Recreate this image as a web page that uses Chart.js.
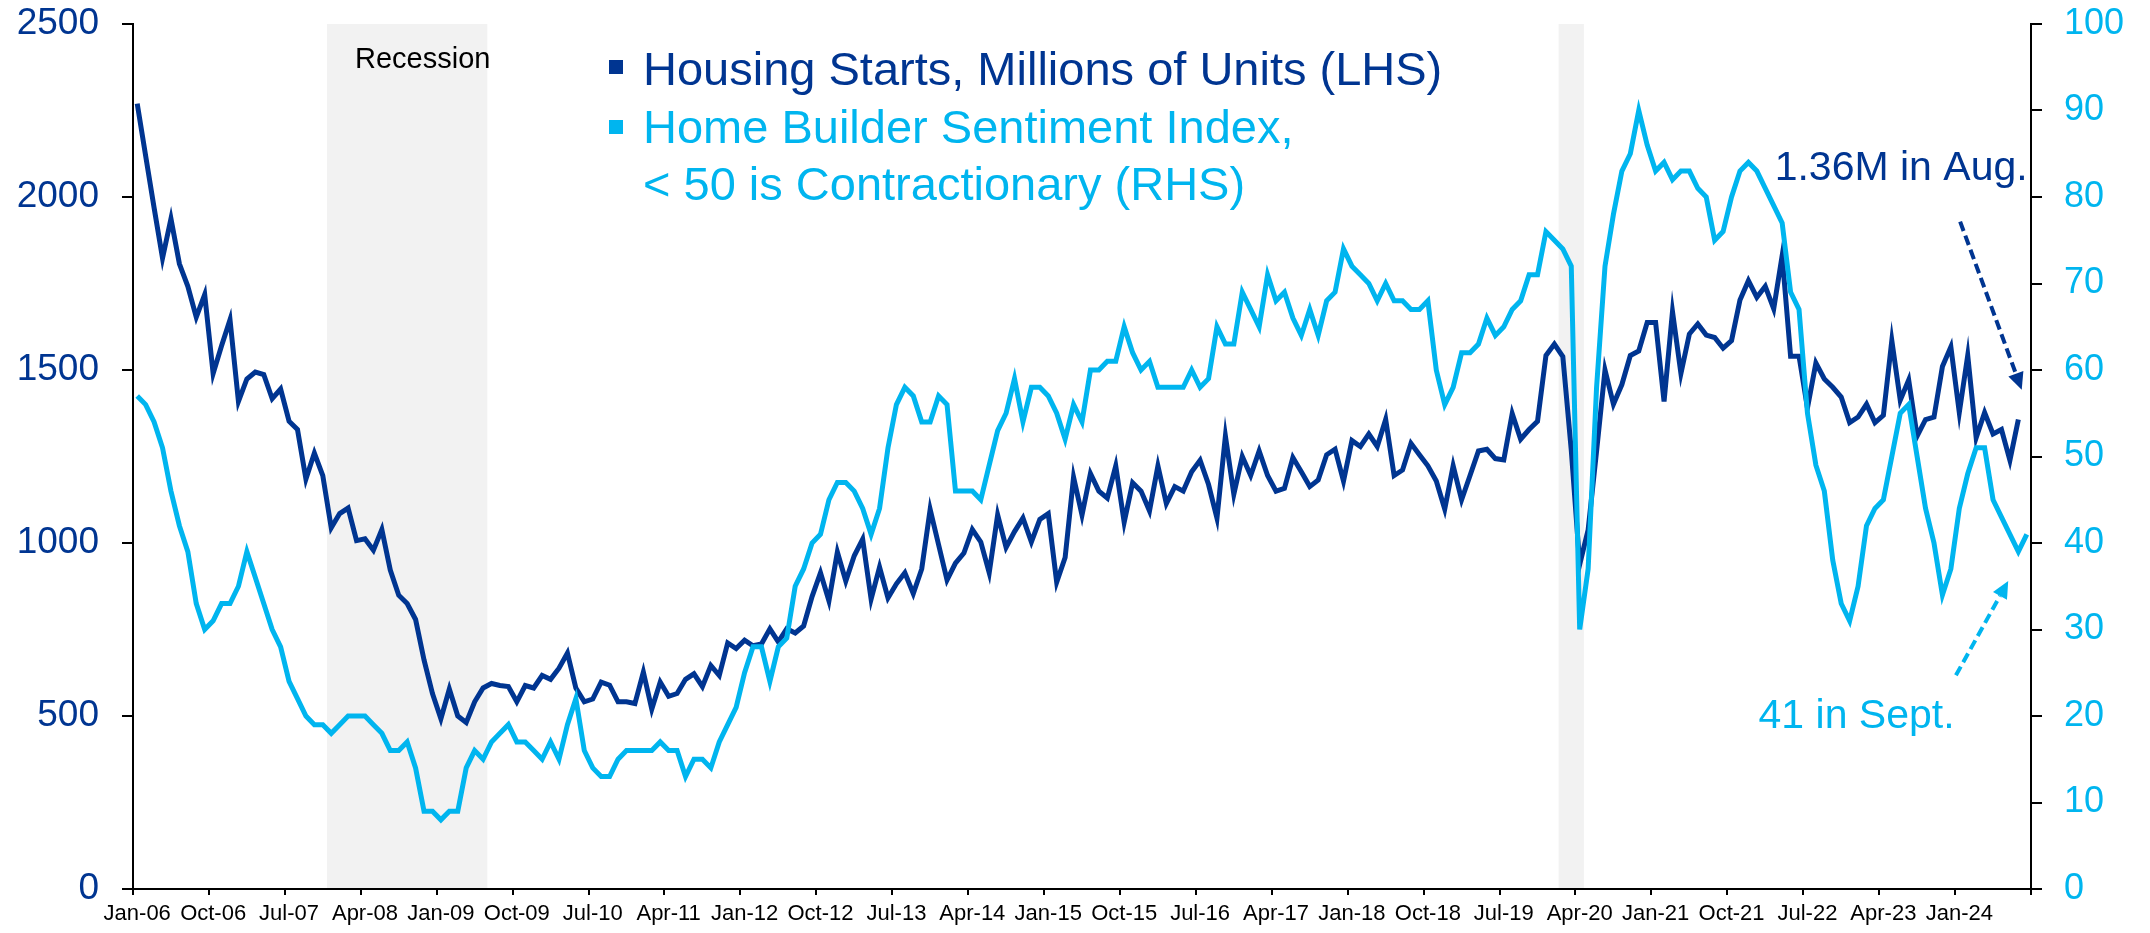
<!DOCTYPE html>
<html>
<head>
<meta charset="utf-8">
<script src="https://cdn.jsdelivr.net/npm/chart.js@4.4.1/dist/chart.umd.min.js"></script>
<style>
  html, body { margin: 0; padding: 0; background: #fff; }
  #wrap { width: 2150px; height: 933px; position: relative; }
</style>
</head>
<body>
<div id="wrap"><canvas id="myChart"></canvas></div>
<script>
// monthly, Jan-06 .. Sep-24
const monthNames = ['Jan','Feb','Mar','Apr','May','Jun','Jul','Aug','Sep','Oct','Nov','Dec'];
const categories = [];
for (let y = 6; y <= 24; y++) {
    for (let m = 0; m < 12; m++) {
        if (y === 24 && m > 8) break;
        categories.push(monthNames[m] + '-' + String(y).padStart(2, '0'));
    }
}

const tickLabels = ['Jan-06','Oct-06','Jul-07','Apr-08','Jan-09','Oct-09','Jul-10','Apr-11','Jan-12',
    'Oct-12','Jul-13','Apr-14','Jan-15','Oct-15','Jul-16','Apr-17','Jan-18','Oct-18','Jul-19',
    'Apr-20','Jan-21','Oct-21','Jul-22','Apr-23','Jan-24'];

// housing starts, thousands (Jan-06 .. Aug-24)
const housingStarts = [
    2270, 2119, 1969, 1823, 1937, 1807, 1742, 1653, 1718, 1490, 1570, 1645,
    1409, 1474, 1494, 1487, 1417, 1445, 1352, 1328, 1185, 1260, 1195, 1044,
    1085, 1101, 1007, 1012, 979, 1039, 922, 849, 825, 779, 662, 565,
    492, 578, 500, 481, 541, 581, 594, 588, 585, 541, 588, 581,
    617, 606, 638, 682, 581, 541, 549, 598, 589, 541, 541, 536,
    627, 520, 598, 557, 565, 606, 622, 585, 646, 617, 711, 695,
    719, 703, 708, 752, 714, 752, 740, 760, 845, 914, 833, 974,
    890, 963, 1011, 838, 930, 841, 882, 914, 854, 925, 1097, 995,
    893, 942, 971, 1039, 1003, 914, 1081, 987, 1033, 1072, 1003, 1068,
    1085, 887, 958, 1190, 1081, 1201, 1150, 1130, 1223, 1060, 1174, 1150,
    1093, 1223, 1114, 1163, 1150, 1206, 1239, 1169, 1072, 1309, 1141, 1250,
    1195, 1266, 1195, 1150, 1158, 1247, 1206, 1163, 1182, 1255, 1271, 1179,
    1296, 1279, 1315, 1279, 1357, 1195, 1211, 1288, 1255, 1223, 1179, 1098,
    1223, 1125, 1195, 1266, 1271, 1244, 1240, 1374, 1300, 1328, 1352, 1542,
    1575, 1539, 1269, 938, 1038, 1265, 1500, 1401, 1458, 1542, 1555, 1637,
    1637, 1409, 1669, 1490, 1604, 1633, 1601, 1594, 1563, 1585, 1702, 1758,
    1710, 1742, 1677, 1830, 1540, 1540, 1390, 1520, 1474, 1450, 1422, 1348,
    1364, 1401, 1348, 1369, 1585, 1413, 1471, 1309, 1357, 1364, 1510, 1567,
    1377, 1542, 1304, 1377, 1315, 1328, 1239, 1357
];

// NAHB home builder sentiment (Jan-06 .. Sep-24)
const builderSentiment = [
    57, 56, 54, 51, 46, 42, 39, 33, 30, 31, 33, 33,
    35, 39, 36, 33, 30, 28, 24, 22, 20, 19, 19, 18,
    19, 20, 20, 20, 19, 18, 16, 16, 17, 14, 9, 9,
    8, 9, 9, 14, 16, 15, 17, 18, 19, 17, 17, 16,
    15, 17, 15, 19, 22, 16, 14, 13, 13, 15, 16, 16,
    16, 16, 17, 16, 16, 13, 15, 15, 14, 17, 19, 21,
    25, 28, 28, 24, 28, 29, 35, 37, 40, 41, 45, 47,
    47, 46, 44, 41, 44, 51, 56, 58, 57, 54, 54, 57,
    56, 46, 46, 46, 45, 49, 53, 55, 59, 54, 58, 58,
    57, 55, 52, 56, 54, 60, 60, 61, 61, 65, 62, 60,
    61, 58, 58, 58, 58, 60, 58, 59, 65, 63, 63, 69,
    67, 65, 71, 68, 69, 66, 64, 67, 64, 68, 69, 74,
    72, 71, 70, 68, 70, 68, 68, 67, 67, 68, 60, 56,
    58, 62, 62, 63, 66, 64, 65, 67, 68, 71, 71, 76,
    75, 74, 72, 30, 37, 58, 72, 78, 83, 85, 90, 86,
    83, 84, 82, 83, 83, 81, 80, 75, 76, 80, 83, 84,
    83, 81, 79, 77, 69, 67, 55, 49, 46, 38, 33, 31,
    35, 42, 44, 45, 50, 55, 56, 50, 44, 40, 34, 37,
    44, 48, 51, 51, 45, 43, 41, 39, 41
];

const recessions = [['Dec-07', 'Jun-09'], ['Feb-20', 'Apr-20']];

const DARK = '#003591';
const LIGHT = '#00B5EF';
const FONT = "'Liberation Sans', Arial, sans-serif";

const extrasPlugin = {
    id: 'extras',
    beforeDraw(chart) {
        const { ctx, chartArea, scales } = chart;
        ctx.save();
        ctx.fillStyle = '#fff';
        ctx.fillRect(0, 0, chart.width, chart.height);
        const x = scales.x;
        const half = (x.getPixelForValue(1) - x.getPixelForValue(0)) / 2;
        ctx.fillStyle = '#F2F2F2';
        recessions.forEach(([a, b]) => {
            const x0 = x.getPixelForValue(categories.indexOf(a)) - half;
            const x1 = x.getPixelForValue(categories.indexOf(b)) + half;
            ctx.fillRect(x0, chartArea.top, x1 - x0, chartArea.bottom - chartArea.top);
        });
        // label on first band
        const bx = x.getPixelForValue(categories.indexOf(recessions[0][0])) - half;
        ctx.fillStyle = '#000';
        ctx.font = '29px ' + FONT;
        ctx.textBaseline = 'alphabetic';
        ctx.fillText('Recession', bx + 28, chartArea.top + 44);
        ctx.restore();
    },
    afterDraw(chart) {
        const { ctx, scales } = chart;
        const x = scales.x, y = scales.y, y1 = scales.y1;
        ctx.save();

        // legend
        ctx.font = '47px ' + FONT;
        ctx.textBaseline = 'alphabetic';
        ctx.fillStyle = DARK;
        ctx.fillRect(609, 60, 14, 14);
        ctx.fillText('Housing Starts, Millions of Units (LHS)', 643, 85);
        ctx.fillStyle = LIGHT;
        ctx.fillRect(609, 120, 14, 14);
        ctx.fillText('Home Builder Sentiment Index,', 643, 143);
        ctx.fillText('< 50 is Contractionary (RHS)', 643, 200);

        // callouts
        ctx.font = '41px ' + FONT;
        ctx.fillStyle = DARK;
        ctx.textAlign = 'right';
        ctx.fillText('1.36M in Aug.', x.getPixelForValue(224.1), y.getPixelForValue(2050));
        ctx.fillStyle = LIGHT;
        ctx.textAlign = 'left';
        ctx.fillText('41 in Sept.', x.getPixelForValue(192.2), y1.getPixelForValue(18.6));

        const arrow = (x0, y0, x1, y1p, color) => {
            const ang = Math.atan2(y1p - y0, x1 - x0);
            const len = 17, hw = 8;
            const bxp = x1 - len * Math.cos(ang), byp = y1p - len * Math.sin(ang);
            ctx.strokeStyle = color;
            ctx.lineWidth = 4;
            ctx.setLineDash([10, 5]);
            ctx.beginPath();
            ctx.moveTo(x0, y0);
            ctx.lineTo(bxp, byp);
            ctx.stroke();
            ctx.setLineDash([]);
            ctx.fillStyle = color;
            ctx.beginPath();
            ctx.moveTo(x1, y1p);
            ctx.lineTo(bxp + hw * Math.sin(ang), byp - hw * Math.cos(ang));
            ctx.lineTo(bxp - hw * Math.sin(ang), byp + hw * Math.cos(ang));
            ctx.closePath();
            ctx.fill();
        };
        arrow(x.getPixelForValue(216.1), y.getPixelForValue(1929),
              x.getPixelForValue(223.4), y.getPixelForValue(1443), DARK);
        arrow(x.getPixelForValue(215.6), y1.getPixelForValue(24.7),
              x.getPixelForValue(221.8), y1.getPixelForValue(35.6), LIGHT);
        ctx.restore();
    }
};

const noPad = (s) => { s.paddingTop = 0; s.paddingBottom = 0; s.paddingLeft = 0; s.paddingRight = 0; };

const config = {
    type: 'line',
    data: {
        labels: categories,
        datasets: [
            {
                label: 'Home Builder Sentiment Index, < 50 is Contractionary (RHS)',
                data: builderSentiment,
                yAxisID: 'y1',
                borderColor: LIGHT,
                borderWidth: 5,
                pointRadius: 0,
                tension: 0,
                order: 0
            },
            {
                label: 'Housing Starts, Millions of Units (LHS)',
                data: housingStarts,
                yAxisID: 'y',
                borderColor: DARK,
                borderWidth: 5,
                pointRadius: 0,
                tension: 0,
                order: 1
            }
        ]
    },
    options: {
        responsive: true,
        maintainAspectRatio: false,
        animation: false,
        layout: { padding: { top: 24, left: 0, right: 0, bottom: 0 } },
        plugins: { legend: { display: false }, tooltip: { enabled: false } },
        scales: {
            x: {
                type: 'category',
                offset: true,
                border: { display: true, color: '#000', width: 2 },
                grid: {
                    offset: true,
                    drawOnChartArea: false,
                    tickLength: 6,
                    lineWidth: 2,
                    color: (c) => (c.type !== 'tick' || c.index % 9 === 0) ? '#000' : 'rgba(0,0,0,0)'
                },
                ticks: {
                    autoSkip: false,
                    maxRotation: 0,
                    minRotation: 0,
                    padding: 6,
                    color: '#000',
                    font: { family: FONT, size: 22 },
                    callback: (v, i) => i % 9 === 0 ? tickLabels[i / 9] : ''
                },
                afterFit: (s) => { s.height = 44; noPad(s); }
            },
            y: {
                position: 'left',
                min: 0,
                max: 2500,
                border: { display: true, color: '#000', width: 2 },
                grid: { drawOnChartArea: false, tickLength: 11, lineWidth: 2, color: '#000' },
                ticks: {
                    stepSize: 500,
                    padding: 23,
                    color: DARK,
                    font: { family: FONT, size: 37 },
                    callback: (v) => String(v)
                },
                afterFit: (s) => { s.width = 133; noPad(s); }
            },
            y1: {
                position: 'right',
                min: 0,
                max: 100,
                border: { display: true, color: '#000', width: 2 },
                grid: { drawOnChartArea: false, tickLength: 11, lineWidth: 2, color: '#000' },
                ticks: {
                    stepSize: 10,
                    padding: 22,
                    color: LIGHT,
                    font: { family: FONT, size: 36 },
                    callback: (v) => String(v)
                },
                afterFit: (s) => { s.width = 119; noPad(s); }
            }
        }
    },
    plugins: [extrasPlugin]
};

const myChart = new Chart(document.getElementById('myChart'), config);
</script>
</body>
</html>
